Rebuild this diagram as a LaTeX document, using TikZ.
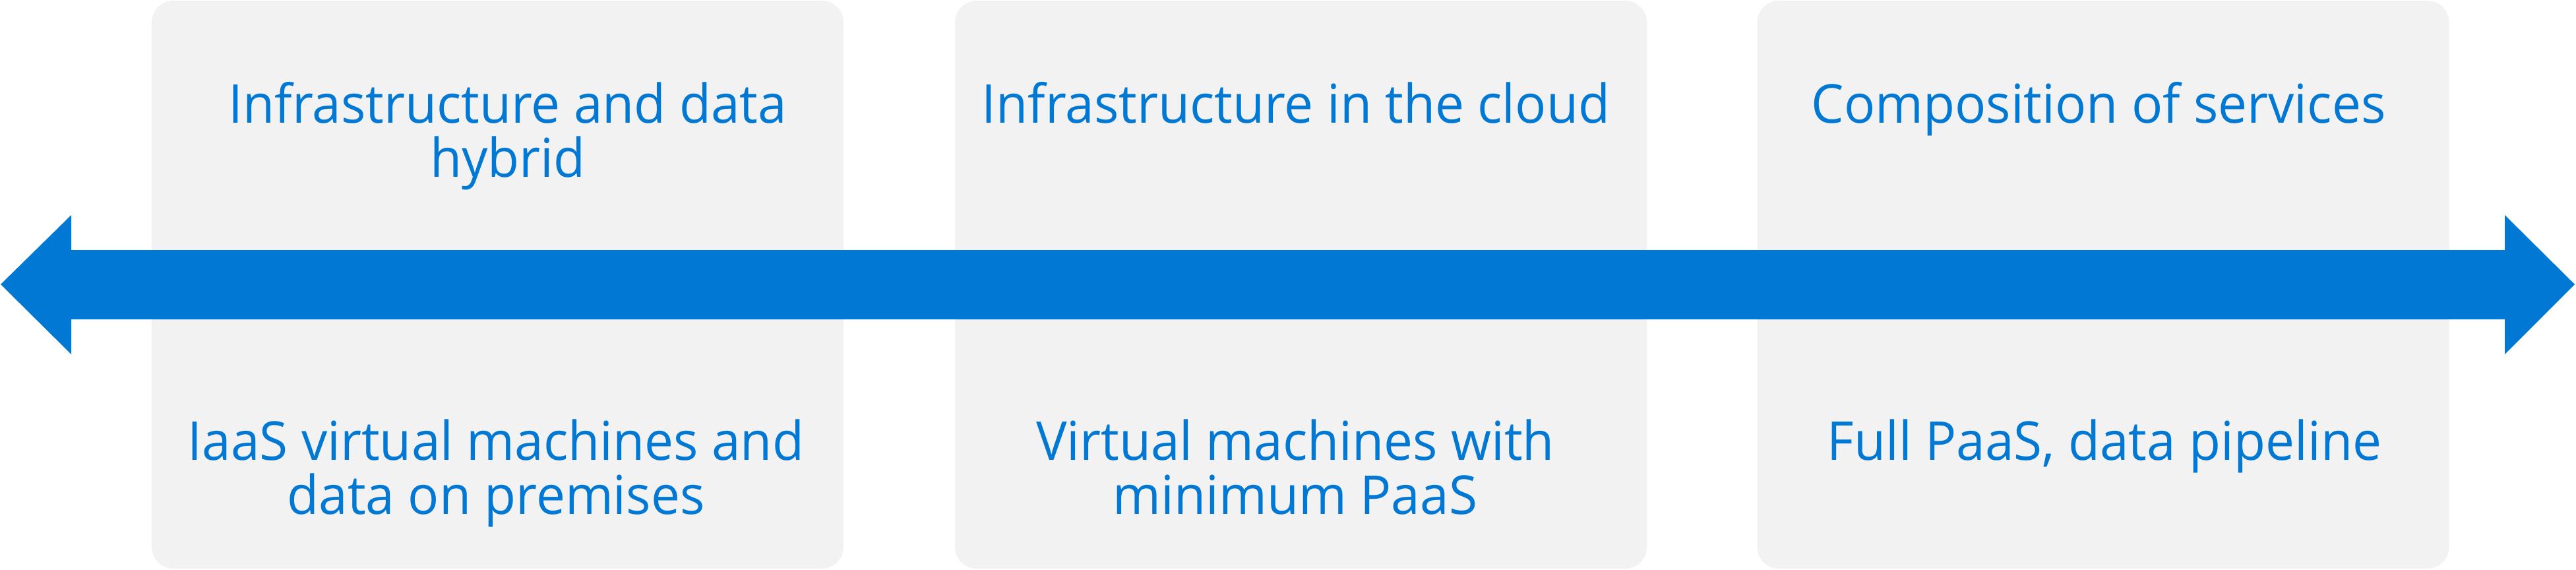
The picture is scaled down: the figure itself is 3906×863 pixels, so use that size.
\documentclass[tikz,border=0pt]{standalone}
\usepackage{fontspec}
\setmainfont{Open Sans}[FakeStretch=0.965]
\definecolor{msblue}{HTML}{0078D4}
\definecolor{boxgray}{HTML}{F2F2F2}
\newcommand{\twoline}[2]{\vtop{\baselineskip=41pt\halign{\hfil##\hfil\cr #1\cr #2\cr}}}
\begin{document}
\begin{tikzpicture}[x=0.5pt,y=-0.5pt,
  panel/.style={rectangle, rounded corners=16.5pt, fill=boxgray, inner sep=0pt,
    minimum width=524.5pt, minimum height=430.5pt},
  label/.style={anchor=base, inner sep=0pt, text=msblue, font=\fontsize{40.6}{41}\selectfont},
  bar/.style={fill=msblue}]
\useasboundingbox (0,0) rectangle (3906,863);
\node[panel] (b1) at (754.5,431.5) {};
\node[panel] (b2) at (1972.5,431.5) {};
\node[panel] (b3) at (3189,431.5) {};
\fill[bar] (1,431) -- (108,326) -- (108,379) -- (3798,379) -- (3798,326) -- (3904,431)
  -- (3798,537) -- (3798,484) -- (108,484) -- (108,537) -- cycle;
\node[label] (t1) at (770,186) {\twoline{Infrastructure and data}{hybrid}};
\node[label] (t2) at (1965,186) {Infrastructure in the cloud};
\node[label] (t3) at (3182,186) {Composition of services};
\node[label] (u1) at (752,697) {\twoline{IaaS virtual machines and}{data on premises}};
\node[label] (u2) at (1964,697) {\twoline{Virtual machines with}{minimum PaaS}};
\node[label] (u3) at (3191,697) {Full PaaS, data pipeline};
\end{tikzpicture}
\end{document}
